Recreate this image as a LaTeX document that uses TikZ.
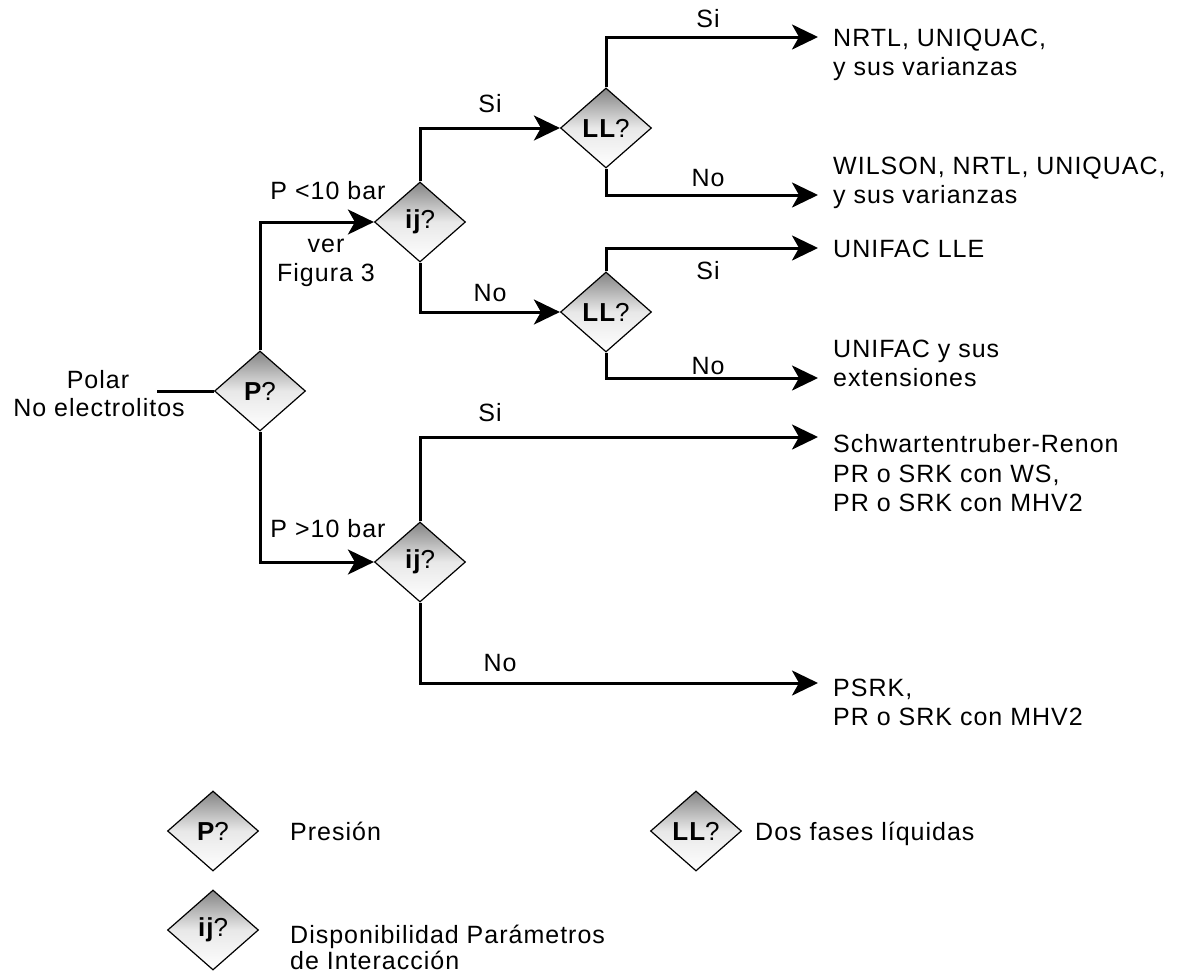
\documentclass[tikz,border=0pt]{standalone}
\usepackage{fontspec}
\setmainfont{Liberation Sans}[LetterSpace=4]
\usetikzlibrary{shapes.geometric,arrows.meta}

\begin{document}
\begin{tikzpicture}[x=1pt,y=-1pt,
  txt/.style={font=\fontsize{25}{29}\selectfont, inner sep=0pt},
  lbl/.style={txt, anchor=base},
  res/.style={txt, anchor=base west},
  decision/.style={diamond, draw=black, line width=1.2pt,
    minimum width=91pt, minimum height=80pt, inner sep=0pt,
    top color=black!48, bottom color=white, middle color=black!9,
    font=\fontsize{26}{30}\selectfont},
  flow/.style={line width=3pt},
  arr/.style={flow, -{Stealth[length=26pt,width=25pt,inset=7pt]}},
]
\fill[white] (0,0) rectangle (1192,978);
\useasboundingbox (0,0) rectangle (1192,978);

% decision nodes
\node[decision] (dP)   at (260,391) {{\bfseries P}?};
\node[decision] (dIJa) at (420,222) {{\bfseries ij}?};
\node[decision] (dLLa) at (606,128) {{\bfseries LL}?};
\node[decision] (dLLb) at (606,312) {{\bfseries LL}?};
\node[decision] (dIJb) at (420,562) {{\bfseries ij}?};

% input
\node[lbl] (polar) at (98,388) {Polar};
\node[lbl] (noel)  at (99,416) {No electrolitos};
\coordinate (in) at (157,391);
\draw[flow] (in) -- (dP.west);

% arrow ends at the results
\coordinate (e1) at (818,37);
\coordinate (e2) at (818,195);
\coordinate (e3) at (818,248);
\coordinate (e4) at (818,378);
\coordinate (e5) at (818,437);
\coordinate (e6) at (818,683);

% connectors
\draw[arr] (dP.north) |- (dIJa.west);
\draw[arr] (dP.south) |- (dIJb.west);
\draw[arr] (dIJa.north) |- (dLLa.west);
\draw[arr] (dIJa.south) |- (dLLb.west);
\draw[arr] (dLLa.north) |- (e1);
\draw[arr] (dLLa.south) |- (e2);
\draw[arr] (dLLb.north) |- (e3);
\draw[arr] (dLLb.south) |- (e4);
\draw[arr] (dIJb.north) |- (e5);
\draw[arr] (dIJb.south) |- (e6);

% branch labels
\node[lbl] (l1)  at (708,27)  {Si};
\node[lbl] (l2)  at (490,112) {Si};
\node[lbl] (l3)  at (708,186) {No};
\node[lbl] (l4)  at (328,199) {P <10 bar};
\node[lbl] (l5a) at (326,252) {ver};
\node[lbl] (l5b) at (326,281) {Figura 3};
\node[lbl] (l6)  at (708,279) {Si};
\node[lbl] (l7)  at (490,301) {No};
\node[lbl] (l8)  at (708,374) {No};
\node[lbl] (l9)  at (490,421) {Si};
\node[lbl] (l10) at (328,537) {P >10 bar};
\node[lbl] (l11) at (500,671) {No};

% results
\node[res] (r1a) at (833,46)    {NRTL, UNIQUAC,};
\node[res] (r1b) at (833,75.5)  {y sus varianzas};
\node[res] (r2a) at (833,174)   {WILSON, NRTL, UNIQUAC,};
\node[res] (r2b) at (833,203.5) {y sus varianzas};
\node[res] (r3)  at (833,257)   {UNIFAC LLE};
\node[res] (r4a) at (833,357)   {UNIFAC y sus};
\node[res] (r4b) at (833,386.5) {extensiones};
\node[res] (r5a) at (833,452.5) {Schwartentruber-Renon};
\node[res] (r5b) at (833,482)   {PR o SRK con WS,};
\node[res] (r5c) at (833,511.5) {PR o SRK con MHV2};
\node[res] (r6a) at (833,696)   {PSRK,};
\node[res] (r6b) at (833,725.5) {PR o SRK con MHV2};

% legend
\node[decision] (kP)  at (213,831) {{\bfseries P}?};
\node[decision] (kLL) at (696,831) {{\bfseries LL}?};
\node[decision] (kIJ) at (213,930) {{\bfseries ij}?};
\node[res] (tP)   at (290,840)   {Presión};
\node[res] (tLL)  at (755,840)   {Dos fases líquidas};
\node[res] (tIJa) at (290,943)   {Disponibilidad Parámetros};
\node[res] (tIJb) at (290,969.5) {de Interacción};
\end{tikzpicture}
\end{document}
